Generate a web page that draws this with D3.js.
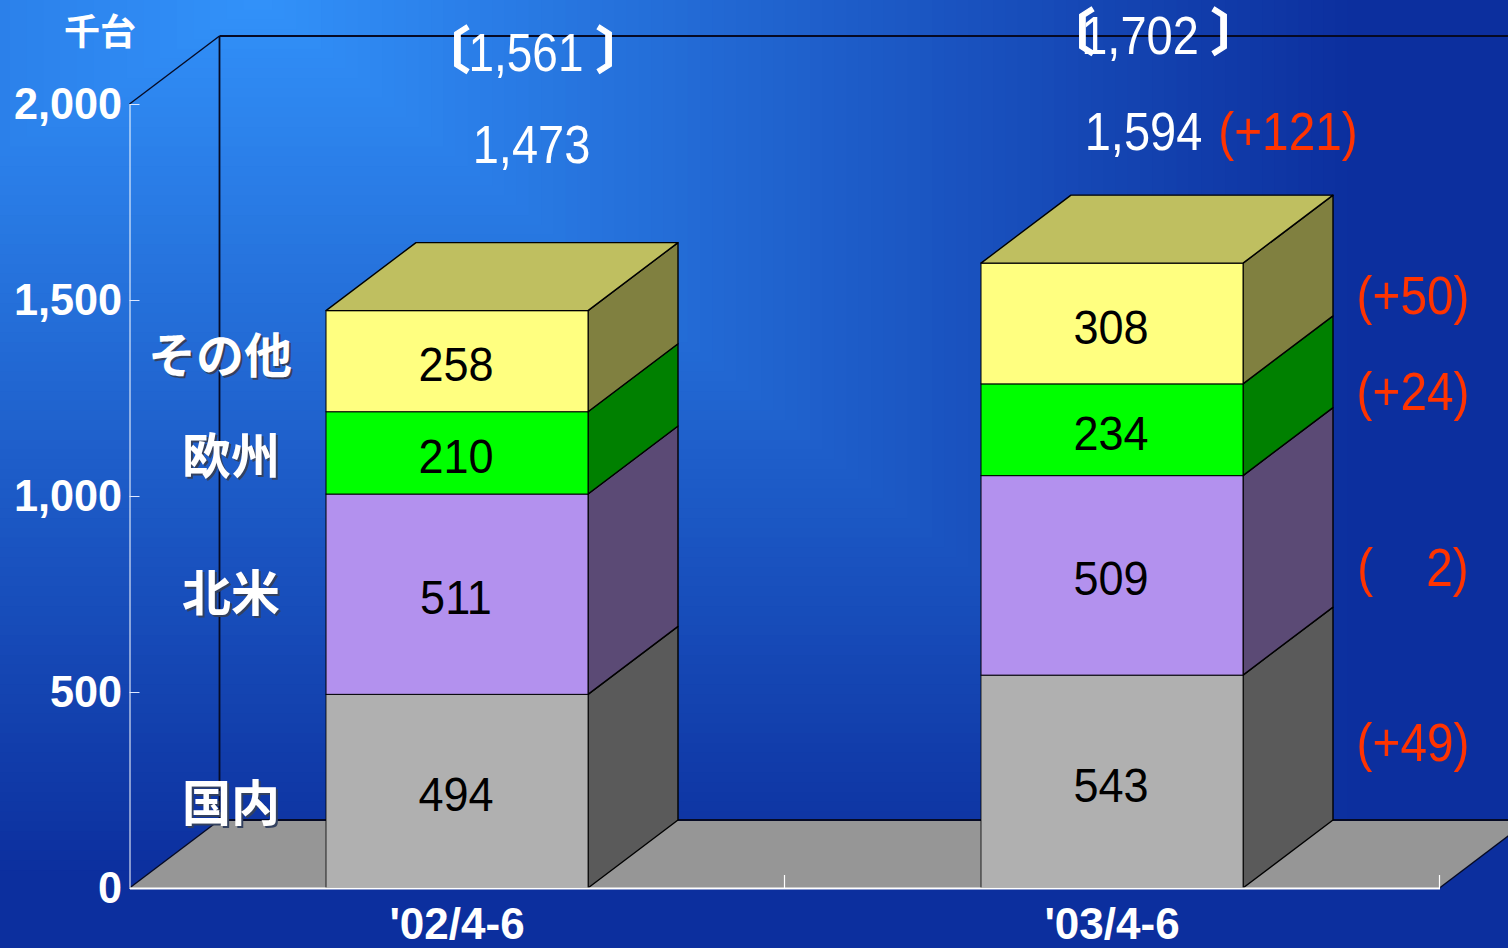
<!DOCTYPE html>
<html><head><meta charset="utf-8">
<script src="https://cdn.jsdelivr.net/npm/d3@7"></script>
<style>html,body{margin:0;padding:0;background:#0d2f9f;overflow:hidden}svg{display:block}
text{font-family:"Liberation Sans",Arial,sans-serif}
.jp{font-family:"Noto Sans CJK JP","Noto Sans",sans-serif;font-weight:700}</style>
</head><body><svg id="c" width="1508" height="948"></svg>
<script>
const periods = ["'02/4-6", "'03/4-6"];
const segments = ["国内", "北米", "欧州", "その他"];
const domestic = [494, 543];
const northAmerica = [511, 509];
const europe = [210, 234];
const others = [258, 308];
const totals = ["1,473", "1,594"];
const bracketTotals = ["1,561", "1,702"];
const totalDiff = "(+121)";
const segmentDiffs = ["(+49)", "(\u00a0\u00a0\u00a0\u00a02)", "(+24)", "(+50)"];
const yTicks = [0, 500, 1000, 1500, 2000];
const unitLabel = "千台";

const frontColors = ["#b0b0b0", "#b391ee", "#00ff00", "#ffff80"];
const sideColors = ["#5a5a5a", "#5b4a75", "#008000", "#808040"];
const topColor = "#bfbf60";
const redText = "#ff3300";

const svg = d3.select("#c");
const dx = 90, dy = -68;
const y = d3.scaleLinear().domain([0, 2000]).range([888, 104]);
const x = d3.scaleBand().domain(periods).range([129.5, 1439.5]);
const barW = x.bandwidth() * 0.4;

// background: nested rectangular gradient
const bgColor = d3.interpolateRgb("#3292fa", "#0c2f9e");
const cx = 260, cy = 0, axL = 1500, axR = 1100, ay = 880, steps = 90;
const outer = svg.append("g");
outer.append("rect").attr("width", 1508).attr("height", 948).attr("fill", "#0c2f9e");
outer.selectAll("rect.s").data(d3.range(steps, 0, -1)).join("rect").attr("class", "s")
  .attr("x", d => cx - axL * d / steps).attr("y", d => cy - ay * d / steps)
  .attr("width", d => (axL + axR) * d / steps).attr("height", d => 2 * ay * d / steps)
  .attr("fill", d => bgColor(d / steps));

const poly = pts => pts.map(p => p.join(",")).join(" ");
const left = x.range()[0], right = x.range()[1];
// floor
svg.append("polygon")
  .attr("points", poly([[left, y(0)], [left + dx, y(0) + dy], [right + dx, y(0) + dy], [right, y(0)]]))
  .attr("fill", "#969696");
// walls
const wallLine = (a, b, c, d, w) => svg.append("line").attr("x1", a).attr("y1", b).attr("x2", c).attr("y2", d)
  .attr("stroke", "#060a24").attr("stroke-width", w);
wallLine(left + dx, y(2000) + dy, left + dx, y(0) + dy, 1.8);
wallLine(left + dx, y(2000) + dy, 1508, y(2000) + dy, 1.8);
wallLine(left, y(2000), left + dx, y(2000) + dy, 1.4);
wallLine(left, y(0), left + dx, y(0) + dy, 1.4);
wallLine(left + dx, y(0) + dy, 1508, y(0) + dy, 1.8);
wallLine(right, y(0), right + dx, y(0) + dy, 1.4);

// stacked bars
const series = [domestic, northAmerica, europe, others];
periods.forEach((p, i) => {
  const x0 = x(p) + (x.bandwidth() - barW) / 2, x1 = x0 + barW;
  const g = svg.append("g");
  let base = 0;
  series.forEach((s, k) => {
    const a = base, b = base + s[i];
    g.append("polygon").attr("points", poly([[x1, y(a)], [x1 + dx, y(a) + dy], [x1 + dx, y(b) + dy], [x1, y(b)]]))
      .attr("fill", sideColors[k]).attr("stroke", "#000").attr("stroke-width", 1.4).attr("stroke-linejoin", "round");
    g.append("rect").attr("x", x0).attr("y", y(b)).attr("width", barW).attr("height", y(a) - y(b))
      .attr("fill", frontColors[k]).attr("stroke", "#000").attr("stroke-width", k === 0 ? 0.8 : 1);
    g.append("text").attr("transform", `translate(${x0 + barW / 2 - 1},${(y(a) + y(b)) / 2 + 20}) scale(.92,1)`)
      .attr("text-anchor", "middle").attr("font-size", 49).attr("fill", "#000").text(s[i]);
    base = b;
  });
  g.append("polygon").attr("points", poly([[x0, y(base)], [x0 + dx, y(base) + dy], [x1 + dx, y(base) + dy], [x1, y(base)]]))
    .attr("fill", topColor).attr("stroke", "#000").attr("stroke-width", 1.4).attr("stroke-linejoin", "round");
});

// axes
const axisY = svg.append("g").attr("transform", `translate(${left},0)`)
  .call(d3.axisLeft(y).tickValues(yTicks).tickFormat(d3.format(",")).tickSizeInner(-10).tickSizeOuter(0).tickPadding(8));
axisY.select(".domain").attr("stroke", "#fff").attr("stroke-width", 1);
axisY.selectAll(".tick line").attr("stroke", "#dfe8ff").attr("stroke-width", 1);
axisY.selectAll(".tick text").attr("fill", "#fff").attr("font-size", 45).attr("font-weight", 700)
  .attr("font-family", "Liberation Sans").attr("dy", null).attr("x", 0)
  .attr("transform", "translate(-7.5,14.5) scale(.96,1)");

const axisX = svg.append("g").attr("transform", `translate(0,${y(0)})`)
  .call(d3.axisBottom(x).tickSize(0).tickPadding(20));
axisX.select(".domain").attr("stroke", "#fff").attr("stroke-width", 2);
axisX.selectAll(".tick text").attr("fill", "#fff").attr("font-size", 44).attr("font-weight", 700)
  .attr("font-family", "Liberation Sans");
axisX.selectAll("line.edge").data(periods).join("line").attr("class", "edge")
  .attr("x1", d => x(d) + x.bandwidth()).attr("x2", d => x(d) + x.bandwidth())
  .attr("y1", 0).attr("y2", -13).attr("stroke", "#fff").attr("stroke-width", 1.2);

// text helper
const put = (s, px, py, size, fill, anchor, sx, cls) => {
  const t = svg.append("text").attr("transform", `translate(${px},${py}) scale(${sx},1)`)
    .attr("text-anchor", anchor).attr("font-size", size).attr("fill", fill).text(s);
  if (cls) t.attr("class", cls);
  return t;
};

// totals
put(totals[0], 531.5, 163, 54, "#fff", "middle", 0.87);
put(totals[1], 1143.5, 150, 54, "#fff", "middle", 0.87);
put(totalDiff, 1288, 150, 54, redText, "middle", 0.885);
// bracketed totals
put(bracketTotals[0], 526, 71, 54, "#fff", "middle", 0.85);
put(bracketTotals[1], 1140, 54, 54, "#fff", "middle", 0.87);
const bracket = (s, px, py) => put(s, px, py, 50, "#fff", "start", 1, "jp")
  .attr("stroke", "#fff").attr("stroke-width", 1.2);
bracket("〔", 420, 68);
bracket("〕", 596, 68);
bracket("〔", 1045, 50);
bracket("〕", 1211, 50);

// per-segment differences
const diffY = [761, 586, 410, 314];
segmentDiffs.forEach((s, i) => put(s, 1413, diffY[i], 54, redText, "middle", 0.885));

// segment names with shadow
const nameX = [231, 231, 231, 220], nameY = [821, 611, 474, 373], nameSize = [49, 49, 49, 48];
segments.forEach((s, i) => {
  put(s, nameX[i] + 2, nameY[i] + 2, nameSize[i], "#33415f", "middle", 1, "jp");
  put(s, nameX[i], nameY[i], nameSize[i], "#fff", "middle", 1, "jp");
});
put(unitLabel, 100, 45, 36, "#fff", "middle", 1, "jp");
</script></body></html>
